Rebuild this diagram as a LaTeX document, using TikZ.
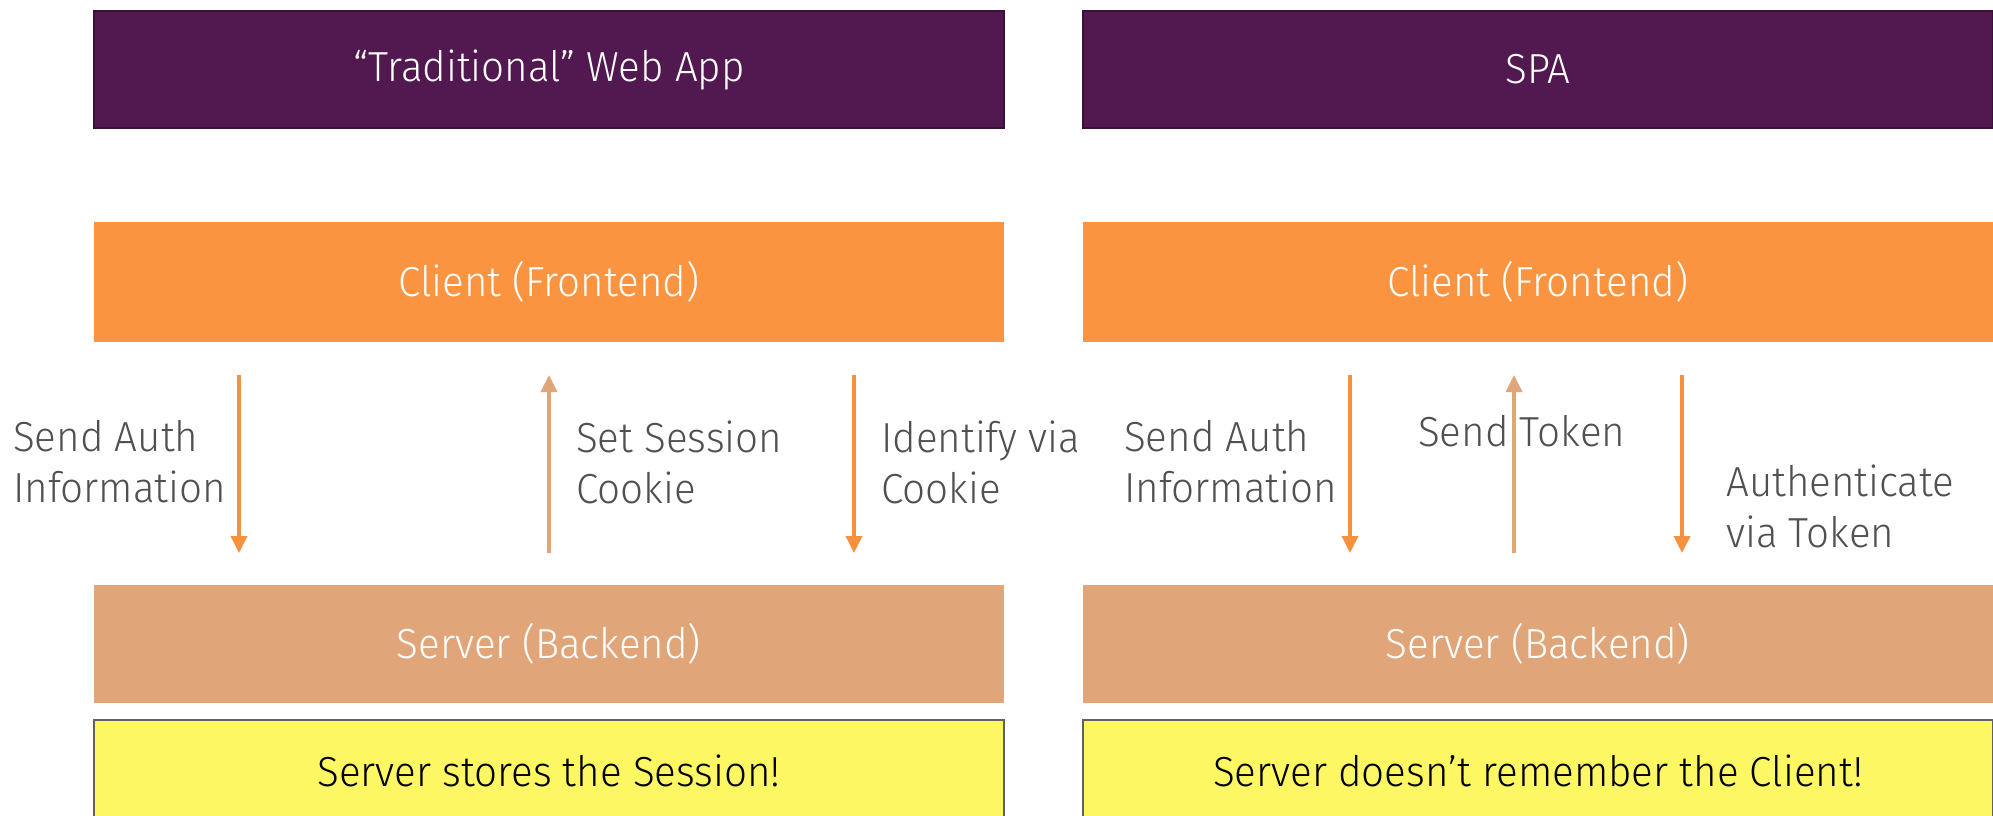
\documentclass[tikz,border=0pt]{standalone}
\usepackage{fontspec}
\setmainfont{Fira Sans Light}[FakeStretch=0.96]
\usetikzlibrary{arrows.meta}
\definecolor{purp}{HTML}{521950}
\definecolor{purpb}{HTML}{3A0F38}
\definecolor{cli}{HTML}{FA9441}
\definecolor{srv}{HTML}{E0A67A}
\definecolor{yel}{HTML}{FEF764}
\definecolor{txt}{HTML}{505050}
\definecolor{arrO}{HTML}{F7913D}
\definecolor{arrT}{HTML}{E0A57A}
\tikzset{
  box/.style={minimum width=910pt, inner sep=0pt, outer sep=0pt, font=\fontsize{42}{51}\selectfont, text=white},
  titlebox/.style={box, fill=purp, draw=purpb, line width=1.2pt, minimum height=117pt},
  clibox/.style={box, fill=cli, minimum height=120pt},
  srvbox/.style={box, fill=srv, minimum height=118pt},
  notebox/.style={box, fill=yel, draw=txt!90, line width=2pt, minimum height=110pt, text=black},
  notetext/.style={inner sep=0pt, text=black, font=\fontsize{42}{51}\selectfont},
  lbl/.style={inner sep=0pt, anchor=west, align=left, text=txt, font=\fontsize{42}{51}\selectfont},
  down/.style={draw=arrO, line width=3.5pt, -{Triangle[length=17pt,width=16pt]}},
  up/.style={draw=arrT, line width=3.5pt, -{Triangle[length=17pt,width=16pt]}},
}
\begin{document}
\begin{tikzpicture}[x=1pt,y=-1pt]
\useasboundingbox (0,0) rectangle (1993,815);
% left column
\node[titlebox] (t1) at (549,69.5) {“Traditional” Web App};
\node[clibox] (c1) at (549,282) {Client (Frontend)};
\node[srvbox] (s1) at (549,644) {Server (Backend)};
\node[notebox, anchor=north] (n1) at (549,720) {};
\node[notetext] (n1t) at (549,771) {Server stores the Session!};
% right column
\node[titlebox] (t2) at (1538,69.5) {SPA};
\node[clibox] (c2) at (1538,282) {Client (Frontend)};
\node[srvbox] (s2) at (1538,644) {Server (Backend)};
\node[notebox, anchor=north] (n2) at (1538,720) {};
\node[notetext] (n2t) at (1538,771) {Server doesn’t remember the Client!};
% arrow end points
\coordinate (a1s) at (239,375); \coordinate (a1e) at (239,553);
\coordinate (a2s) at (549,553); \coordinate (a2e) at (549,375);
\coordinate (a3s) at (854,375); \coordinate (a3e) at (854,553);
\coordinate (b1s) at (1350,375); \coordinate (b1e) at (1350,553);
\coordinate (b2s) at (1514,553); \coordinate (b2e) at (1514,375);
\coordinate (b3s) at (1682,375); \coordinate (b3e) at (1682,553);
\draw[down] (a1s) -- (a1e);
\draw[up] (a2s) -- (a2e);
\draw[down] (a3s) -- (a3e);
\draw[down] (b1s) -- (b1e);
\draw[up] (b2s) -- (b2e);
\draw[down] (b3s) -- (b3e);
% labels
\node[lbl] (l1) at (13,462) {Send Auth\\Information};
\node[lbl] (l2) at (576,462) {Set Session\\Cookie};
\node[lbl] (l3) at (881,462) {Identify via\\Cookie};
\node[lbl] (l4) at (1124,462) {Send Auth\\Information};
\node[lbl] (l5) at (1418,431) {Send Token};
\node[lbl] (l6) at (1726,506) {Authenticate\\via Token};
\end{tikzpicture}
\end{document}
